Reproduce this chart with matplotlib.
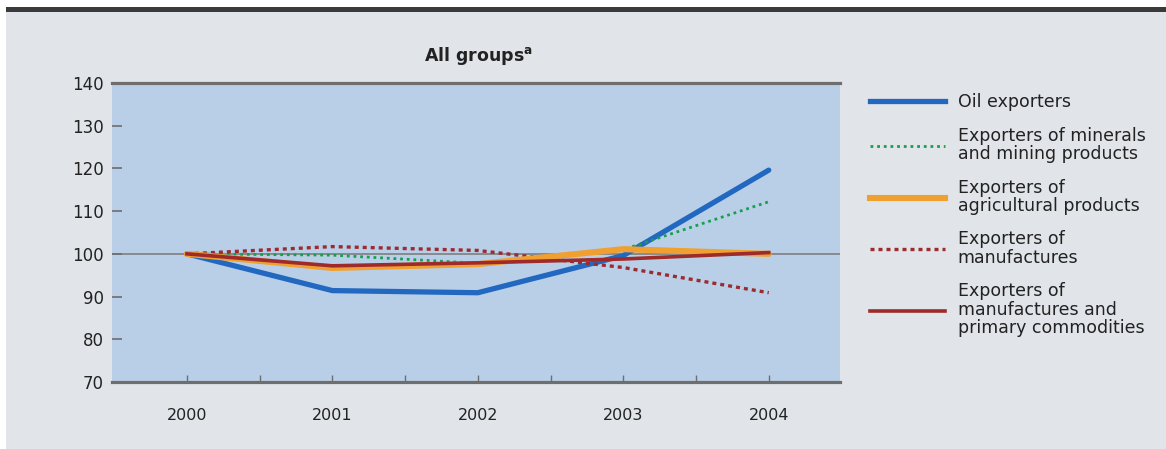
import matplotlib
matplotlib.use('Agg')
import matplotlib.pyplot as plt
from matplotlib.patches import Rectangle
from matplotlib.lines import Line2D

plt.rcParams['font.family'] = ['DejaVu Sans']

years = [2000, 2001, 2002, 2003, 2004]
oil = [100, 91.4, 90.9, 99.6, 119.6]
minerals = [100, 99.7, 97.8, 101.0, 112.2]
agricultural = [100, 96.7, 97.6, 101.1, 100.0]
manufactures = [100, 101.7, 100.8, 96.8, 90.9]
manuf_primary = [100, 97.2, 97.9, 98.8, 100.3]

labels = ['Oil exporters',
          'Exporters of minerals\nand mining products',
          'Exporters of\nagricultural products',
          'Exporters of\nmanufactures',
          'Exporters of\nmanufactures and\nprimary commodities']

W, H = 1166, 449
fig = plt.figure(figsize=(W / 100, H / 100), dpi=100, facecolor='white')

# grey panel and dark rule on top
fig.patches.append(Rectangle((6 / W, 0), 1 - 6 / W, 1 - 12 / H, transform=fig.transFigure,
                             facecolor='#e1e4e8', edgecolor='none', zorder=-10))
fig.patches.append(Rectangle((6 / W, 1 - 12 / H), 1 - 6 / W, 5 / H, transform=fig.transFigure,
                             facecolor='#3a3a3a', edgecolor='none', zorder=-10))

ax = fig.add_axes([112 / W, 1 - 382 / H, 728 / W, 299 / H])
ax.set_facecolor('#b9cfe8')

ax.axhline(100, color='#7f7f7f', lw=1.2, zorder=1)

ax.plot(years, oil, color='#2268c0', lw=3.8, solid_capstyle='round', zorder=3)
ax.plot(years, minerals, color='#16a04c', lw=2.0, ls=(0, (1, 1.4)), zorder=3)
ax.plot(years, manufactures, color='#9a2b2e', lw=2.4, ls=(0, (1.2, 1.2)), zorder=3)
ax.plot(years, agricultural, color='#f0a030', lw=4.4, solid_capstyle='round', zorder=4)
ax.plot(years, manuf_primary, color='#9e2a2a', lw=2.6, zorder=5)

ax.set_xlim(1999.485, 2004.49)
ax.set_ylim(70, 140)
ax.set_yticks(range(70, 141, 10))
ax.set_xticks(years)
ax.set_xticks([1999.5 + i for i in range(1, 5)], minor=True)

for s in ['left', 'right']:
    ax.spines[s].set_visible(False)
for s in ['top', 'bottom']:
    ax.spines[s].set_color('#6e6e6e')
    ax.spines[s].set_linewidth(2.3)

ax.tick_params(axis='y', direction='in', length=7, width=1.2, color='#6e6e6e',
               labelsize=12, pad=6, labelcolor='#222222')
ax.tick_params(axis='x', which='both', direction='in', length=5, width=1.0, color='#6e6e6e',
               labelsize=11.5, pad=19, labelcolor='#222222')

fig.text(478 / W, 1 - 56 / H, 'All groups$^{\\mathbf{a}}$', ha='center', va='center',
         fontsize=12.5, fontweight='bold', color='#222222')

handles = [
    Line2D([], [], color='#2268c0', lw=3.8),
    Line2D([], [], color='#16a04c', lw=2.0, ls=(0, (1, 1.4))),
    Line2D([], [], color='#f0a030', lw=4.4),
    Line2D([], [], color='#9a2b2e', lw=2.4, ls=(0, (1.2, 1.2))),
    Line2D([], [], color='#9e2a2a', lw=2.6),
]
leg = fig.legend(handles, labels, loc='upper left', bbox_to_anchor=(870 / W, 1 - 93 / H),
                 frameon=False, fontsize=12.5, handlelength=4.3, handletextpad=0.75,
                 labelspacing=0.9, borderaxespad=0, borderpad=0)
for t in leg.get_texts():
    t.set_linespacing(1.02)
    t.set_color('#222222')

fig.savefig('out.png', dpi=100)
